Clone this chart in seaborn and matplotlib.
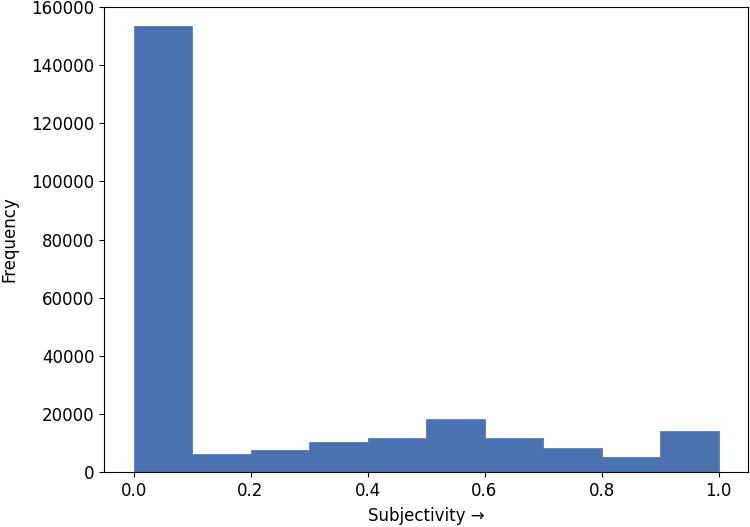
import seaborn as sns
import matplotlib.pyplot as plt

# histogram bins and counts
bin_edges = [0.0, 0.1, 0.2, 0.3, 0.4, 0.5, 0.6, 0.7, 0.8, 0.9, 1.0]
bin_centers = [0.05, 0.15, 0.25, 0.35, 0.45, 0.55, 0.65, 0.75, 0.85, 0.95]
counts = [153500, 6200, 7800, 10500, 11900, 18400, 11900, 8300, 5200, 14000]

plt.rcParams['font.family'] = ['DejaVu Sans']
plt.rcParams['font.size'] = 12

fig = plt.figure(figsize=(7.5, 5.27), dpi=100)
ax = fig.add_axes([0.139, 0.104, 0.858, 0.883])

sns.histplot(x=bin_centers, weights=counts, bins=bin_edges, ax=ax,
             color='#4a71b0', edgecolor='#4a71b0', linewidth=0.5, alpha=1)

ax.set_xlim(-0.05, 1.05)
ax.set_ylim(0, 160000)
ax.set_xticks([0.0, 0.2, 0.4, 0.6, 0.8, 1.0])
ax.set_yticks(range(0, 160001, 20000))
ax.tick_params(labelsize=12)
ax.set_xlabel('Subjectivity \u2192', fontsize=12, labelpad=5)
ax.set_ylabel('Frequency', fontsize=12)
ax.yaxis.set_label_coords(-0.134, 0.5)

plt.savefig('out.png', dpi=100)
